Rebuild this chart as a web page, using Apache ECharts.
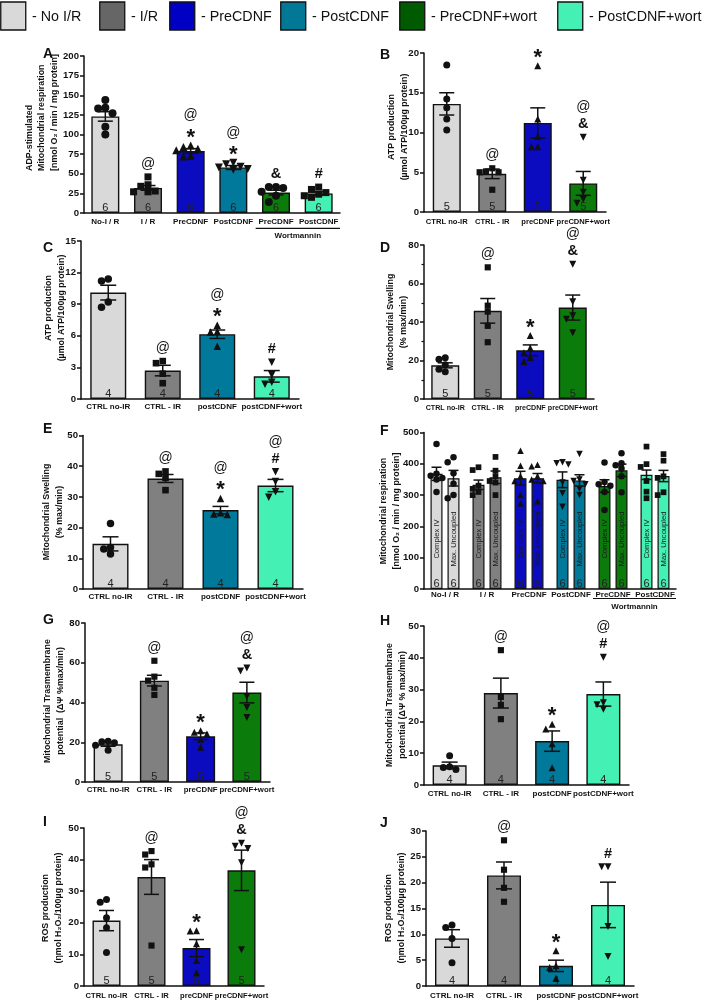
<!DOCTYPE html>
<html><head><meta charset="utf-8">
<script src="https://cdn.jsdelivr.net/npm/echarts@6/dist/echarts.min.js"></script>
<style>html,body{margin:0;padding:0;background:#fff}#c{width:709px;height:1000px}</style>
</head><body><div id="c"></div>
<script>
// ================= DATA =================
const legendNames = ['- No I/R','- I/R','- PreCDNF','- PostCDNF','- PreCDNF+wort','- PostCDNF+wort'];
const groupLabel = 'Wortmannin';

// Panel A
const catsA = ['No-I / R','I / R','PreCDNF','PostCDNF','PreCDNF','PostCDNF'];
const meanA = [123, 32, 79, 58, 26, 25];
const semA  = [6, 3, 3, 2.5, 3, 2];
const ptsA  = [[144,134,133,127,110,100],[46,36,34,28,27,27],[86,84,82,80,73,72],[64,62,59,58,56,55],[33,33,32,27,22,14],[33,30,26,24,22,20]];
const nA    = [6,6,6,6,6,6];
const sigA  = [[],['@'],['*','@'],['*','@'],['&'],['#']];
const yTicksA = [0,25,50,75,100,125,150,175,200];
const titleA = ['ADP-stimulated','Mitochondrial respiration','[nmol O\u2082 / min / mg protein]'];

// Panel B
const catsB = ['CTRL no-IR','CTRL - IR','preCDNF','preCDNF+wort'];
const meanB = [13.6, 4.8, 11.2, 3.6];
const semB  = [1.4, 0.6, 1.9, 1.5];
const ptsB  = [[18.5,14.2,13.1,11.7,10.3],[5.5,5.1,5.0,5.0,2.8],[18.4,11.7,9.5,8.2,8.2],[9.4,4.0,2.5,1.6,1.1]];
const nB    = [5,5,5,5];
const sigB  = [[],['@'],['*'],['&','@']];
const yTicksB = [0,5,10,15,20];
const titleB = ['ATP production','(\u00b5mol ATP/100\u00b5g protein)'];

// Panel C
const catsC = ['CTRL no-IR','CTRL - IR','postCDNF','postCDNF+wort'];
const meanC = [10.1, 2.7, 6.15, 2.15];
const semC  = [0.7, 0.5, 0.4, 0.55];
const ptsC  = [[11.4,11.2,9.2,8.7],[3.6,3.4,2.4,1.5],[7.0,6.4,6.35,5.0],[3.5,2.3,1.6,1.4]];
const nC    = [4,4,4,4];
const sigC  = [[],['@'],['*','@'],['#']];
const yTicksC = [0,3,6,9,12,15];
const titleC = ['ATP production','(\u00b5mol ATP/100\u00b5g protein)'];

// Panel D
const catsD = ['CTRL no-IR','CTRL - IR','preCDNF','preCDNF+wort'];
const meanD = [17.5, 45.8, 25.3, 47.5];
const semD  = [1.3, 6.4, 2.8, 6.5];
const ptsD  = [[21.4,20.6,17.8,15.5,14.2],[68.4,48.5,45.4,38,29.5],[33,26.5,24,21.5,19.5],[70,50.5,43.2,41.4,34.4]];
const nD    = [5,5,5,5];
const sigD  = [[],['@'],['*'],['&','@']];
const yTicksD = [0,20,40,60,80];
const titleD = ['Mitochondrial Swelling','(% max/min)'];

// Panel E
const catsE = ['CTRL no-IR','CTRL - IR','postCDNF','postCDNF+wort'];
const meanE = [14.7, 36.0, 25.7, 33.7];
const semE  = [2.3, 1.3, 1.2, 2.0];
const ptsE  = [[21.3,13.5,13.0,11.4],[38.3,37.5,36.2,32.2],[29.5,24.8,24.4,24.3],[38.2,35.0,31.7,29.9]];
const nE    = [4,4,4,4];
const sigE  = [[],['@'],['*','@'],['#','@']];
const yTicksE = [0,10,20,30,40,50];
const titleE = ['Mitochondrial Swelling','(% max/min)'];

// Panel F
const catsF = ['No-I / R','I / R','PreCDNF','PostCDNF','PreCDNF','PostCDNF'];
const barNamesF = ['Complex IV','Max. Uncoupled'];
const meanF_CIV = [368, 333, 354, 349, 329, 365];
const meanF_Max = [354, 357, 354, 347, 379, 361];
const semF_CIV  = [21, 15, 22, 25, 20, 15];
const semF_Max  = [25, 20, 15, 18, 20, 18];
const ptsF_CIV  = [[463,368,362,355,350,310],[389,380,330,320,310,300],[442,394,360,345,300,274],[405,402,398,340,306,263],[404,342,335,330,310,252],[455,399,390,345,311,290]];
const ptsF_Max  = [[421,405,370,336,300,290],[422,378,360,345,340,300],[397,392,360,350,345,280],[431,350,345,335,320,300],[434,402,395,385,360,309],[431,410,360,355,309,300]];
const nF    = [6,6,6,6,6,6];
const yTicksF = [0,100,200,300,400,500];
const titleF = ['Mitochondrial respiration','[nmol O\u2082 / min / mg protein]'];

// Panel G
const catsG = ['CTRL no-IR','CTRL - IR','preCDNF','preCDNF+wort'];
const meanG = [19, 51, 23, 45];
const semG  = [1.0, 2.7, 1.7, 5.2];
const ptsG  = [[20.5,20.2,19.8,18.5,16],[61,53,51,47.4,43.8],[25.8,25.0,24.2,21.5,17.5],[57.4,55.9,43,37.5,32.5]];
const nG    = [5,5,5,5];
const sigG  = [[],['@'],['*'],['&','@']];
const yTicksG = [0,20,40,60,80];
const titleG = ['Mitochondrial Trasmembrane','potential  (\u0394\u03a8 %max/min)'];

// Panel H
const catsH = ['CTRL no-IR','CTRL - IR','postCDNF','postCDNF+wort'];
const meanH = [6.2, 28.9, 13.8, 28.6];
const semH  = [1.0, 4.7, 3.2, 3.8];
const ptsH  = [[9.2,5.7,5.5,4.9],[42.4,27.7,25.2,20.7],[19.1,17.6,13.0,5.4],[40.2,25.9,25.2,23.8]];
const nH    = [4,4,4,4];
const sigH  = [[],['@'],['*'],['#','@']];
const yTicksH = [0,10,20,30,40,50];
const titleH = ['Mitochondrial Trasmembrane','potential (\u0394\u03a8 % max/min)'];

// Panel I
const catsI = ['CTRL no-IR','CTRL - IR','preCDNF','preCDNF+wort'];
const meanI = [20.7, 34.5, 12.0, 36.6];
const semI  = [3.2, 5.5, 2.7, 6.4];
const ptsI  = [[27.4,26.5,21.6,18.4,10.6],[42.7,41.6,38.5,37.5,12.8],[17.5,17.4,13.4,8.1,4.2],[45.2,44.2,43.5,39.0,11.5]];
const nI    = [5,5,5,5];
const sigI  = [[],['@'],['*'],['&','@']];
const yTicksI = [0,10,20,30,40,50];
const titleI = ['ROS production','(\u03b7mol H\u2082O\u2082/100\u00b5g protein)'];

// Panel J
const catsJ = ['CTRL no-IR','CTRL - IR','postCDNF','postCDNF+wort'];
const meanJ = [9.2, 21.4, 3.9, 15.7];
const semJ  = [1.7, 2.6, 1.1, 4.4];
const ptsJ  = [[11.8,11.3,9.2,4.5],[28.2,22.5,19.0,16.3],[6.8,3.9,3.6,1.5],[23.1,23.1,11.5,5.7]];
const nJ    = [4,4,4,4];
const sigJ  = [[],['@'],['*'],['#']];
const yTicksJ = [0,5,10,15,20,25,30];
const titleJ = ['ROS production','(\u03b7mol H\u2082O\u2082/100\u00b5g protein)'];

// ================= STYLE =================
const FONT = '"Liberation Sans",Arial,sans-serif';
const INK = '#111';

const legendColors = ['#d9d9d9','#666666','#0000c4','#007896','#005a00','#44f0b4'];
const barC = {noIR:'#d9d9d9', IR:'#808080', pre:'#0b0bc0', post:'#00799a', preW:'#0b7c0b', postW:'#45f0b4'};
const SHP = {c:'circle', s:'rect', t:'triangle', v:'inv'};

const panels = [
 {key:'A', cats:catsA, mean:meanA, sem:semA, pts:ptsA, n:nA, sig:sigA, ticks:yTicksA, title:titleA,
  col:[barC.noIR,barC.IR,barC.pre,barC.post,barC.preW,barC.postW], shp:['c','s','t','v','c','s'],
  grid:{left:84,top:56,width:256,height:157}, barW:28, sym:8, cap:7.5, lm:5, cf:8,
  tx:42, ty:171, talign:'left', letter:[43,47], wort:[15.3,23]},
 {key:'B', cats:catsB, mean:meanB, sem:semB, pts:ptsB, n:nB, sig:sigB, ticks:yTicksB, title:titleB,
  col:[barC.noIR,barC.IR,barC.pre,barC.preW], shp:['c','s','t','v'],
  grid:{left:424,top:53,width:182,height:159}, barW:28, sym:7, cap:7.5, lm:6, cf:7.6,
  tx:398, ty:127, talign:'center', letter:[380,48]},
 {key:'C', cats:catsC, mean:meanC, sem:semC, pts:ptsC, n:nC, sig:sigC, ticks:yTicksC, title:titleC,
  col:[barC.noIR,barC.IR,barC.post,barC.postW], shp:['c','s','t','v'],
  grid:{left:81,top:241,width:218,height:158}, barW:36, sym:7.5, cap:8, lm:4, cf:8,
  tx:55, ty:308, talign:'center', letter:[43,241]},
 {key:'D', cats:catsD, mean:meanD, sem:semD, pts:ptsD, n:nD, sig:sigD, ticks:yTicksD, title:titleD,
  col:[barC.noIR,barC.IR,barC.pre,barC.preW], shp:['c','s','t','v'],
  grid:{left:424,top:245,width:170,height:154}, barW:28, sym:7, cap:7.5, lm:5.5, cf:7.1, minor:true,
  tx:397, ty:322, talign:'center', letter:[380,241]},
 {key:'E', cats:catsE, mean:meanE, sem:semE, pts:ptsE, n:nE, sig:sigE, ticks:yTicksE, title:titleE,
  col:[barC.noIR,barC.IR,barC.post,barC.postW], shp:['c','s','t','v'],
  grid:{left:83,top:435.5,width:220,height:153.5}, barW:36, sym:7.5, cap:8, lm:3.5, cf:8,
  tx:53, ty:512, talign:'center', letter:[43,422]},
 {key:'G', cats:catsG, mean:meanG, sem:semG, pts:ptsG, n:nG, sig:sigG, ticks:yTicksG, title:titleG,
  col:[barC.noIR,barC.IR,barC.pre,barC.preW], shp:['c','s','t','v'],
  grid:{left:85,top:623,width:185,height:159}, barW:29, sym:7, cap:7.5, lm:4.3, cf:7.8,
  tx:54, ty:701, talign:'center', letter:[43,613]},
 {key:'H', cats:catsH, mean:meanH, sem:semH, pts:ptsH, n:nH, sig:sigH, ticks:yTicksH, title:titleH,
  col:[barC.noIR,barC.IR,barC.post,barC.postW], shp:['c','s','t','v'],
  grid:{left:424,top:626,width:205,height:159}, barW:34, sym:7, cap:8, lm:5, cf:8,
  tx:396, ty:705, talign:'center', letter:[380,614]},
 {key:'I', cats:catsI, mean:meanI, sem:semI, pts:ptsI, n:nI, sig:sigI, ticks:yTicksI, title:titleI,
  col:[barC.noIR,barC.IR,barC.pre,barC.preW], shp:['c','s','t','v'],
  grid:{left:84,top:828,width:180,height:158}, barW:28, sym:7, cap:7.5, lm:5.5, cf:7.6,
  tx:52, ty:908, talign:'center', letter:[43,815]},
 {key:'J', cats:catsJ, mean:meanJ, sem:semJ, pts:ptsJ, n:nJ, sig:sigJ, ticks:yTicksJ, title:titleJ,
  col:[barC.noIR,barC.IR,barC.post,barC.postW], shp:['c','s','t','v'],
  grid:{left:426,top:831,width:208,height:155}, barW:34, sym:7, cap:8, lm:5.5, cf:8,
  tx:395, ty:908, talign:'center', letter:[380,816]}
];
const panelF = {key:'F', cats:catsF, n:nF, ticks:yTicksF, title:titleF,
  col:[barC.noIR,barC.IR,barC.pre,barC.post,barC.preW,barC.postW], shp:['c','s','t','v','c','s'],
  grid:{left:424,top:432.5,width:252,height:156.5}, barW:12, gap:5, sym:6.5, cap:5, lm:2, cf:8,
  tx:390, ty:511, talign:'center', letter:[380,424], wort:[9.5,18]};

// ================= HELPERS =================
function swarm(vals, ppu, s){
  const placed=[], offs=[]; const d=s*0.9;
  vals.forEach(v=>{
    const y=v*ppu;
    const cands=[0,-d,d,-2*d,2*d,-3*d,3*d];
    let chosen=0;
    for(const dx of cands){
      if(placed.every(p=>Math.hypot(p.x-dx,p.y-y)>=s*0.8)){chosen=dx;break;}
    }
    placed.push({x:chosen,y}); offs.push(chosen);
  });
  return offs;
}
function symItem(shape, size){
  if(shape==='inv') return {symbol:'triangle', symbolRotate:180, symbolSize:size};
  if(shape==='rect') return {symbol:'rect', symbolSize:size*0.88};
  return {symbol:shape, symbolSize:size};
}
function errBar(api, off, hw){
  const x=api.value(0);
  const a=api.coord([x, api.value(1)]), b=api.coord([x, api.value(2)]);
  const cx=a[0]+off; const st={stroke:INK, lineWidth:1.5};
  return {type:'group', children:[
    {type:'line', shape:{x1:cx,y1:a[1],x2:cx,y2:b[1]}, style:st},
    {type:'line', shape:{x1:cx-hw,y1:b[1],x2:cx+hw,y2:b[1]}, style:st},
    {type:'line', shape:{x1:cx-hw,y1:a[1],x2:cx+hw,y2:a[1]}, style:st}]};
}
const sigStyle = {
  '@':{fontSize:14, fontWeight:'normal', dy:0},
  '*':{fontSize:22, fontWeight:'bold', dy:5},
  '&':{fontSize:14.5, fontWeight:'bold', dy:0},
  '#':{fontSize:14.5, fontWeight:'bold', dy:0}
};

const option = {animation:false, textStyle:{fontFamily:FONT}, grid:[], xAxis:[], yAxis:[], series:[], graphic:[]};

function addAxes(p, gi){
  option.grid.push(Object.assign({outerBoundsMode:'none', containLabel:false}, p.grid));
  const ls={color:INK, width:1.5};
  option.xAxis.push({type:'category', gridIndex:gi, data:p.cats,
    axisLine:{lineStyle:ls}, axisTick:{alignWithLabel:true, length:4, lineStyle:ls},
    axisLabel:{interval:0, margin:p.lm, fontSize:p.cf, fontWeight:'bold', color:INK, fontFamily:FONT, hideOverlap:false},
    splitLine:{show:false}});
  const t=p.ticks;
  option.yAxis.push({type:'value', gridIndex:gi, min:t[0], max:t[t.length-1], interval:t[1]-t[0],
    axisLine:{show:true, lineStyle:ls}, axisTick:{show:true, length:4, lineStyle:ls},
    minorTick: p.minor ? {show:true, splitNumber:2, length:2.5, lineStyle:{color:INK, width:1.2}} : {show:false},
    axisLabel:{margin:5, fontSize:9.6, fontWeight:'bold', color:INK, fontFamily:FONT, showMinLabel:true, showMaxLabel:true},
    splitLine:{show:false}, minorSplitLine:{show:false}});
  option.graphic.push({type:'text', x:p.tx, y:p.ty, rotation:Math.PI/2, silent:true,
    style:{text:p.title.join('\n'), fontSize:8.9, fontWeight:'bold', fontFamily:FONT, fill:INK,
      align:p.talign, verticalAlign:'middle', lineHeight:12.5}});
  option.graphic.push({type:'text', x:p.letter[0], y:p.letter[1], silent:true,
    style:{text:p.key, fontSize:14, fontWeight:'bold', fontFamily:FONT, fill:INK, align:'left', verticalAlign:'top'}});
  if(p.wort){
    option.series.push({type:'custom', xAxisIndex:gi, yAxisIndex:gi, clip:false, silent:true, z:3,
      data:[[4, t[0]]], encode:{x:0,y:1},
      renderItem:(params, api)=>{
        const a=api.coord([4, t[0]]), b=api.coord([5, t[0]]); const w=api.size([1,0])[0];
        const x1=a[0]-w/2+1, x2=b[0]+w/2;
        return {type:'group', children:[
          {type:'line', shape:{x1:x1,y1:a[1]+p.wort[0],x2:x2,y2:a[1]+p.wort[0]}, style:{stroke:INK, lineWidth:1.2}},
          {type:'text', x:(x1+x2)/2, y:a[1]+p.wort[1], style:{text:groupLabel, fontSize:p.cf, fontWeight:'bold', fontFamily:FONT, fill:INK, align:'center', verticalAlign:'middle'}}]};
      }});
  }
}

function buildPanel(p, gi){
  addAxes(p, gi);
  const t=p.ticks; const ppu=p.grid.height/(t[t.length-1]-t[0]);
  option.series.push({type:'bar', xAxisIndex:gi, yAxisIndex:gi, barWidth:p.barW, silent:true, z:2,
    data:p.mean.map((v,j)=>({value:v, itemStyle:{color:p.col[j]}})),
    itemStyle:{borderColor:INK, borderWidth:1.4},
    label:{show:true, position:'insideBottom', distance:0, formatter:q=>String(p.n[q.dataIndex]),
      fontSize:11, color:'#222', fontFamily:FONT}});
  option.series.push({type:'custom', xAxisIndex:gi, yAxisIndex:gi, clip:false, silent:true, z:4,
    data:p.mean.map((m,j)=>[j, m-p.sem[j], m+p.sem[j]]), encode:{x:0,y:[1,2]},
    renderItem:(params, api)=>errBar(api, 0, p.cap)});
  const sdata=[];
  p.pts.forEach((arr,j)=>{
    const offs=swarm(arr, ppu, p.sym);
    arr.forEach((v,k)=>sdata.push(Object.assign({value:[j,v], symbolOffset:[offs[k],0]}, symItem(SHP[p.shp[j]], p.sym))));
  });
  option.series.push({type:'scatter', xAxisIndex:gi, yAxisIndex:gi, data:sdata, silent:true, z:5,
    itemStyle:{color:INK, opacity:1}});
  option.series.push({type:'custom', xAxisIndex:gi, yAxisIndex:gi, clip:false, silent:true, z:6,
    data:p.mean.map((m,j)=>[j, Math.max(m+p.sem[j], ...p.pts[j])]), encode:{x:0,y:1},
    renderItem:(params, api)=>{
      const j=api.value(0); const c=api.coord([j, api.value(1)]);
      const ch=[]; let y=c[1]-13;
      p.sig[j].forEach(s=>{
        const st=sigStyle[s];
        ch.push({type:'text', x:c[0], y:y+st.dy, style:{text:s, fontSize:st.fontSize, fontWeight:st.fontWeight,
          fontFamily:FONT, fill:INK, align:'center', verticalAlign:'middle'}});
        y-=17;
      });
      return {type:'group', children:ch};
    }});
}

function buildF(p, gi){
  addAxes(p, gi);
  const t=p.ticks; const ppu=p.grid.height/(t[t.length-1]-t[0]);
  const half=(p.barW+p.gap)/2;
  const means=[meanF_CIV, meanF_Max], sems=[semF_CIV, semF_Max], pts=[ptsF_CIV, ptsF_Max];
  means.forEach((mean, si)=>{
    const off = si===0 ? -half : half;
    option.series.push({type:'bar', xAxisIndex:gi, yAxisIndex:gi, barWidth:p.barW, barGap:(p.gap/p.barW*100)+'%', silent:true, z:2,
      name:barNamesF[si],
      data:mean.map((v,j)=>({value:v, itemStyle:{color:p.col[j]}})),
      itemStyle:{borderColor:INK, borderWidth:1.2},
      label:{show:true, position:'insideBottom', distance:0, formatter:q=>String(p.n[q.dataIndex]),
        fontSize:11, color:'#222', fontFamily:FONT}});
    option.series.push({type:'custom', xAxisIndex:gi, yAxisIndex:gi, clip:false, silent:true, z:4,
      data:mean.map((m,j)=>[j, m-sems[si][j], m+sems[si][j]]), encode:{x:0,y:[1,2]},
      renderItem:(params, api)=>errBar(api, off, p.cap)});
    option.series.push({type:'custom', xAxisIndex:gi, yAxisIndex:gi, clip:false, silent:true, z:3,
      data:mean.map((m,j)=>[j, t[0]]), encode:{x:0,y:1},
      renderItem:(params, api)=>{
        const c=api.coord([api.value(0), t[0]]);
        return {type:'text', x:c[0]+off, y:c[1]-50, rotation:Math.PI/2,
          style:{text:barNamesF[si], fontSize:7.6, fontFamily:FONT, fill:'#1a1a1a', align:'center', verticalAlign:'middle'}};
      }});
    const sdata=[];
    pts[si].forEach((arr,j)=>{
      const offs=swarm(arr, ppu, p.sym);
      arr.forEach((v,k)=>sdata.push(Object.assign({value:[j,v], symbolOffset:[off+offs[k],0]}, symItem(SHP[p.shp[j]], p.sym))));
    });
    option.series.push({type:'scatter', xAxisIndex:gi, yAxisIndex:gi, data:sdata, silent:true, z:5, itemStyle:{color:INK, opacity:1}});
  });
}

panels.forEach((p,i)=>buildPanel(p,i));
buildF(panelF, panels.length);

// legend (top)
const legX=[0,99,169,280,399,557];
legendNames.forEach((nm,i)=>{
  option.graphic.push({type:'rect', shape:{x:legX[i]+0.75, y:2, width:25, height:28}, silent:true,
    style:{fill:legendColors[i], stroke:INK, lineWidth:1.3}});
  option.graphic.push({type:'text', x:legX[i]+32, y:17, silent:true,
    style:{text:nm, fontSize:14.3, fontFamily:FONT, fill:INK, align:'left', verticalAlign:'middle'}});
});

const chart = echarts.init(document.getElementById('c'), null, {width:709, height:1000});
chart.setOption(option);
</script></body></html>
